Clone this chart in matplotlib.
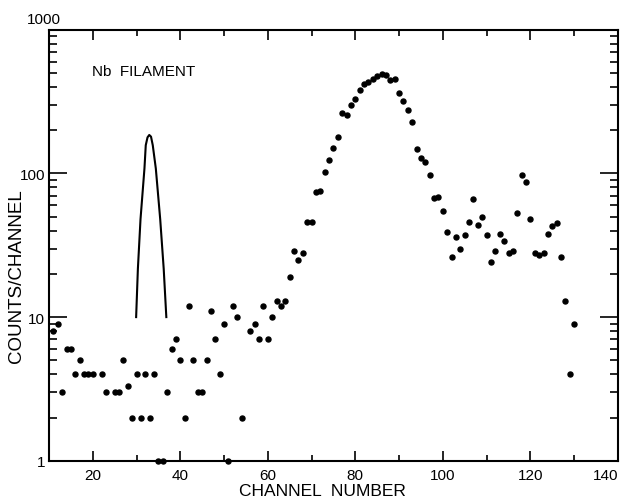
import matplotlib
matplotlib.use("Agg")
import matplotlib.pyplot as plt
from matplotlib.ticker import FixedLocator, LogLocator, NullFormatter

plt.rcParams['font.family'] = ['Liberation Sans', 'DejaVu Sans']

# Measured spectrum (channel, counts/channel); zero-count channels omitted
channels = [11, 12, 13, 14, 15, 16, 17, 18, 19, 20, 22, 23, 25, 26, 27, 28, 29, 30,
            31, 32, 33, 34, 35, 36, 37, 38, 39, 40, 41, 42, 43, 44, 45, 46, 47, 48,
            49, 50, 51, 52, 53, 54, 56, 57, 58, 59, 60, 61, 62, 63, 64, 65, 66, 67,
            68, 69, 70, 71, 72, 73, 74, 75, 76, 77, 78, 79, 80, 81, 82, 83, 84, 85,
            86, 87, 88, 89, 90, 91, 92, 93, 94, 95, 96, 97, 98, 99, 100, 101, 102,
            103, 104, 105, 106, 107, 108, 109, 110, 111, 112, 113, 114, 115, 116,
            117, 118, 119, 120, 121, 122, 123, 124, 125, 126, 127, 128, 129, 130]
counts = [8, 9, 3, 6, 6, 4, 5, 4, 4, 4, 4, 3, 3, 3, 5, 3.3, 2, 4,
          2, 4, 2, 4, 1, 1, 3, 6, 7, 5, 2, 12, 5, 3, 3, 5, 11, 7,
          4, 9, 1, 12, 10, 2, 8, 9, 7, 12, 7, 10, 13, 12, 13, 19, 29, 25,
          28, 46, 46, 74, 75, 103, 124, 149, 178, 265, 255, 297, 328, 380, 417, 435, 450, 475,
          488, 487, 444, 454, 365, 321, 276, 229, 147, 128, 120, 97, 67, 69, 55, 39, 26,
          36, 30, 37, 46, 66, 44, 50, 37, 24, 29, 38, 34, 28, 29,
          53, 97, 87, 48, 28, 27, 28, 38, 43, 45, 26, 13, 4, 9]

# Resolution (line-shape) curve drawn near channel 33
curve_ch = [29.9, 30.3, 30.9, 31.8, 32.1, 32.5, 32.9, 33.3, 33.7, 34.4, 35.4, 36.2, 36.8]
curve_val = [10, 21.7, 48, 108, 157, 178, 185, 180, 157, 108, 48, 21.7, 10]

x_major = [20, 40, 60, 80, 100, 120, 140]
x_minor = [30, 50, 70, 90, 110, 130]
y_major = [1, 10, 100, 1000]
y_labels = ['1', '10', '100', '']

fig = plt.figure(figsize=(6.21, 5.02), dpi=100)
ax = fig.add_axes([0.079, 0.080, 0.916, 0.859])

ax.plot(channels, counts, 'o', color='black', markersize=3.6, clip_on=False, zorder=3)
ax.plot(curve_ch, curve_val, '-', color='black', linewidth=1.5)

ax.set_yscale('log')
ax.set_xlim(10, 140)
ax.set_ylim(1, 1000)

ax.xaxis.set_major_locator(FixedLocator(x_major))
ax.xaxis.set_minor_locator(FixedLocator(x_minor))
ax.set_xticklabels([str(v) for v in x_major])
ax.yaxis.set_major_locator(FixedLocator(y_major))
ax.set_yticklabels(y_labels)
ax.yaxis.set_minor_locator(LogLocator(base=10, subs=range(2, 10)))
ax.yaxis.set_minor_formatter(NullFormatter())

ax.tick_params(axis='both', which='both', direction='in', top=True, right=True,
               labelsize=11, width=1.2)
ax.tick_params(axis='x', which='major', length=7.5, pad=5)
ax.tick_params(axis='x', which='minor', length=4)
ax.tick_params(axis='y', which='major', length=13, pad=3)
ax.tick_params(axis='y', which='minor', length=6)

# keep the last x tick label inside the figure, as in the reference
ax.get_xticklabels()[-1].set_horizontalalignment('right')

for s in ax.spines.values():
    s.set_linewidth(1.5)

ax.text(-0.009, 1.025, '1000', transform=ax.transAxes, fontsize=11,
        ha='center', va='center')

ax.set_xlabel('CHANNEL  NUMBER', fontsize=12.5)
ax.xaxis.set_label_coords(0.48, -0.052)
ax.set_ylabel('COUNTS/CHANNEL', fontsize=13.5)
ax.yaxis.set_label_coords(-0.042, 0.43)

ax.text(0.076, 0.905, 'Nb  FILAMENT', transform=ax.transAxes, fontsize=11,
        ha='left', va='center')

fig.savefig('out.png', dpi=100)
